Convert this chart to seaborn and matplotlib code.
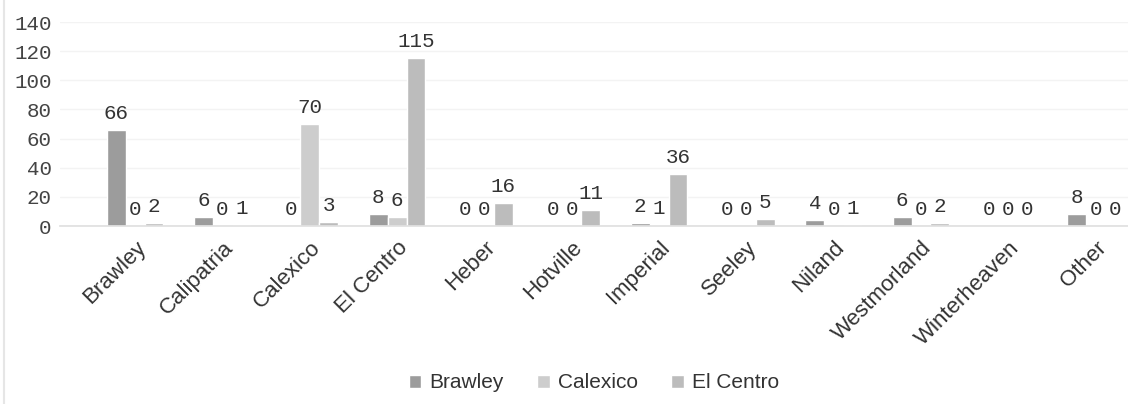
import matplotlib
matplotlib.use("Agg")
import matplotlib.pyplot as plt
from matplotlib.lines import Line2D
import seaborn as sns
import pandas as pd

# Case counts by city, split by reporting office
cities = ["Brawley", "Calipatria", "Calexico", "El Centro", "Heber", "Hotville",
          "Imperial", "Seeley", "Niland", "Westmorland", "Winterheaven", "Other"]
brawley = [66, 6, 0, 8, 0, 0, 2, 0, 4, 6, 0, 8]
calexico = [0, 0, 70, 6, 0, 0, 1, 0, 0, 0, 0, 0]
el_centro = [2, 1, 3, 115, 16, 11, 36, 5, 1, 2, 0, 0]
series_names = ["Brawley", "Calexico", "El Centro"]
y_ticks = [0, 20, 40, 60, 80, 100, 120, 140]

rows = []
for name, vals in zip(series_names, [brawley, calexico, el_centro]):
    for city, v in zip(cities, vals):
        rows.append({"city": city, "office": name, "count": v})
df = pd.DataFrame(rows)

sns.set_theme(style="white")
plt.rcParams["font.family"] = ["Liberation Sans", "DejaVu Sans"]

W, H = 1128, 404
fig = plt.figure(figsize=(W / 100, H / 100), dpi=100)
ax = fig.add_axes([60 / W, 1 - 226 / H, (W - 60) / W, (226 - 22) / H])

palette = {"Brawley": "#9c9c9c", "Calexico": "#cdcdcd", "El Centro": "#bcbcbc"}
sns.barplot(data=df, x="city", y="count", hue="office", order=cities,
            hue_order=series_names, palette=palette, width=0.65,
            errorbar=None, ax=ax, saturation=1)

for cont in ax.containers:
    ax.bar_label(cont, labels=[f"{int(b.get_height())}" for b in cont],
                 padding=5, fontsize=15, family="Liberation Mono", color="#333333")

ax.set_xlim(-0.86, 11.37)
ax.set_ylim(0, 140)
ax.set_yticks(y_ticks)
ax.set_yticklabels([str(t) for t in y_ticks], family="Liberation Mono",
                   fontsize=15, color="#444444")
ax.set_xticks(range(len(cities)))
ax.set_xticklabels(cities, rotation=45, ha="right", rotation_mode="anchor",
                   fontsize=16, color="#333333")
ax.tick_params(axis="x", length=0, pad=8)
ax.tick_params(axis="y", length=0, pad=6)
ax.set_xlabel("")
ax.set_ylabel("")

ax.yaxis.grid(True, color="#f3f3f3", linewidth=1)
ax.set_axisbelow(True)
for s in ["left", "top", "right"]:
    ax.spines[s].set_visible(False)
ax.spines["bottom"].set_color("#e0e0e0")

handles, labels = ax.get_legend_handles_labels()
ax.legend(handles, labels, loc="center", bbox_to_anchor=(594 / W, 1 - 383 / H),
          bbox_transform=fig.transFigure, ncol=3, frameon=False,
          handlelength=0.6, handleheight=0.6, handletextpad=0.4,
          columnspacing=1.6, fontsize=15, labelcolor="#333333")

fig.add_artist(Line2D([4 / W, 4 / W], [0, 1], transform=fig.transFigure,
                      color="#e6e6e6", linewidth=1.5))

fig.savefig("out.png", dpi=100, facecolor="white")
